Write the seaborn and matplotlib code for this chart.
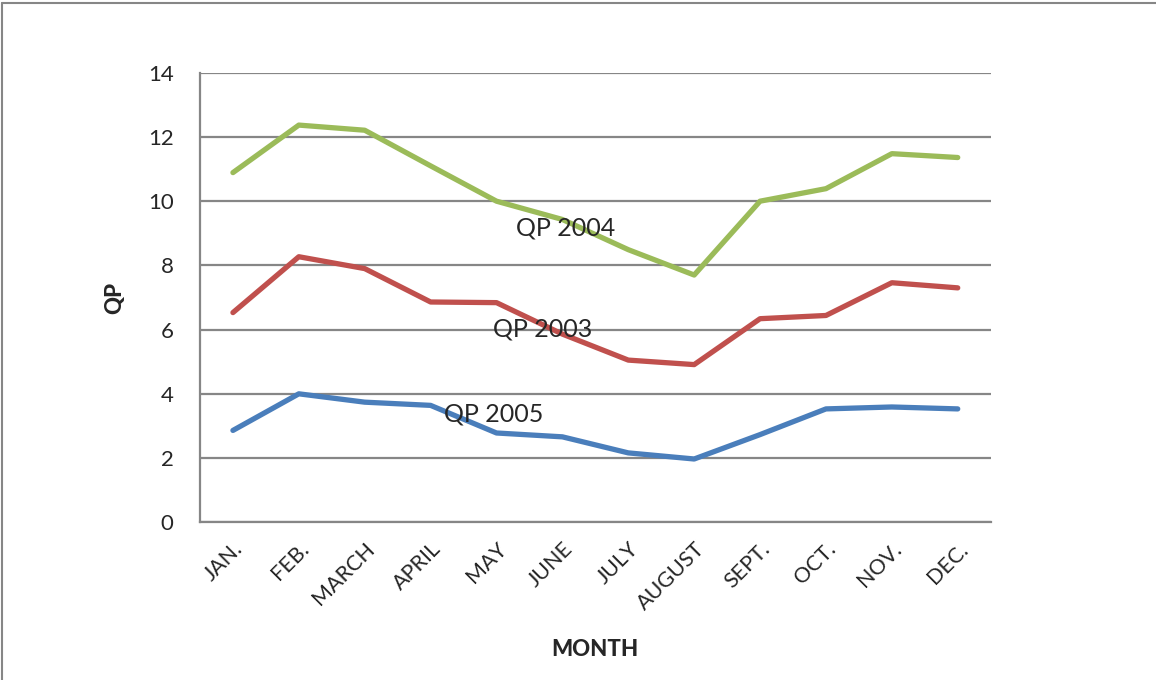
import matplotlib.pyplot as plt
import seaborn as sns
import pandas as pd
from matplotlib.lines import Line2D

months = ['JAN.', 'FEB.', 'MARCH', 'APRIL', 'MAY', 'JUNE', 'JULY', 'AUGUST',
          'SEPT.', 'OCT.', 'NOV.', 'DEC.']
qp_2003 = [6.53, 8.27, 7.90, 6.86, 6.84, 5.86, 5.05, 4.91, 6.34, 6.44, 7.46, 7.30]
qp_2004 = [10.89, 12.37, 12.21, 11.10, 10.00, 9.43, 8.49, 7.70, 10.00, 10.39, 11.48, 11.36]
qp_2005 = [2.86, 4.00, 3.74, 3.64, 2.78, 2.66, 2.16, 1.97, 2.73, 3.53, 3.59, 3.53]
series = ['QP 2003', 'QP 2004', 'QP 2005']
colors = ['#C0504D', '#9BBB59', '#4A7EBB']
y_ticks = [0, 2, 4, 6, 8, 10, 12, 14]

df = pd.DataFrame({'MONTH': months * 3,
                   'x': list(range(len(months))) * 3,
                   'QP': qp_2003 + qp_2004 + qp_2005,
                   'series': [s for s in series for _ in months]})

sns.set_style('white')
plt.rcParams['font.family'] = ['Lato', 'DejaVu Sans']

fig = plt.figure(figsize=(11.56, 6.8), dpi=100)
ax = fig.add_axes([0.173, 0.232, 0.684, 0.661])

sns.lineplot(data=df, x='x', y='QP', hue='series', palette=dict(zip(series, colors)),
             linewidth=3.8, legend=False, ax=ax, solid_capstyle='round')

# data labels next to one point of each series
ax.text(5.05, qp_2004[5] - 0.25, 'QP 2004', ha='center', va='center', fontsize=18)
ax.text(4.7, qp_2003[5] + 0.15, 'QP 2003', ha='center', va='center', fontsize=18)
ax.text(3.95, qp_2005[4] + 0.6, 'QP 2005', ha='center', va='center', fontsize=18)

ax.set_xlim(-0.5, len(months) - 0.5)
ax.set_ylim(0, 14)
ax.set_yticks(y_ticks)
ax.set_yticklabels([str(v) for v in y_ticks], fontsize=16)
ax.set_xticks([i - 0.5 for i in range(len(months) + 1)])
ax.set_xticklabels([])
ax.set_xticks(range(len(months)), minor=True)
ax.set_xticklabels(months, minor=True, rotation=45, ha='right', rotation_mode='anchor',
                   fontsize=15.5)
ax.tick_params(axis='x', which='major', length=7, width=1.3, color='#868686', direction='out')
ax.tick_params(axis='x', which='minor', length=0, pad=12)
ax.tick_params(axis='y', length=7, width=1.3, color='#868686', direction='out', pad=12)

ax.grid(axis='y', color='#868686', linewidth=1.6)
ax.set_axisbelow(True)
for side in ['top', 'right']:
    ax.spines[side].set_visible(False)
for side in ['left', 'bottom']:
    ax.spines[side].set_color('#868686')
    ax.spines[side].set_linewidth(1.6)

ax.set_xlabel('MONTH', fontsize=16, fontweight='black', labelpad=18)
ax.set_ylabel('QP', fontsize=16, fontweight='black', labelpad=16)

# outer chart border
fig.add_artist(Line2D([0.002, 1.0], [0.996, 0.996], color='#868686', linewidth=1.5,
                      transform=fig.transFigure))
fig.add_artist(Line2D([0.002, 0.002], [0.0, 0.996], color='#868686', linewidth=1.5,
                      transform=fig.transFigure))

fig.savefig('out.png', dpi=100)
